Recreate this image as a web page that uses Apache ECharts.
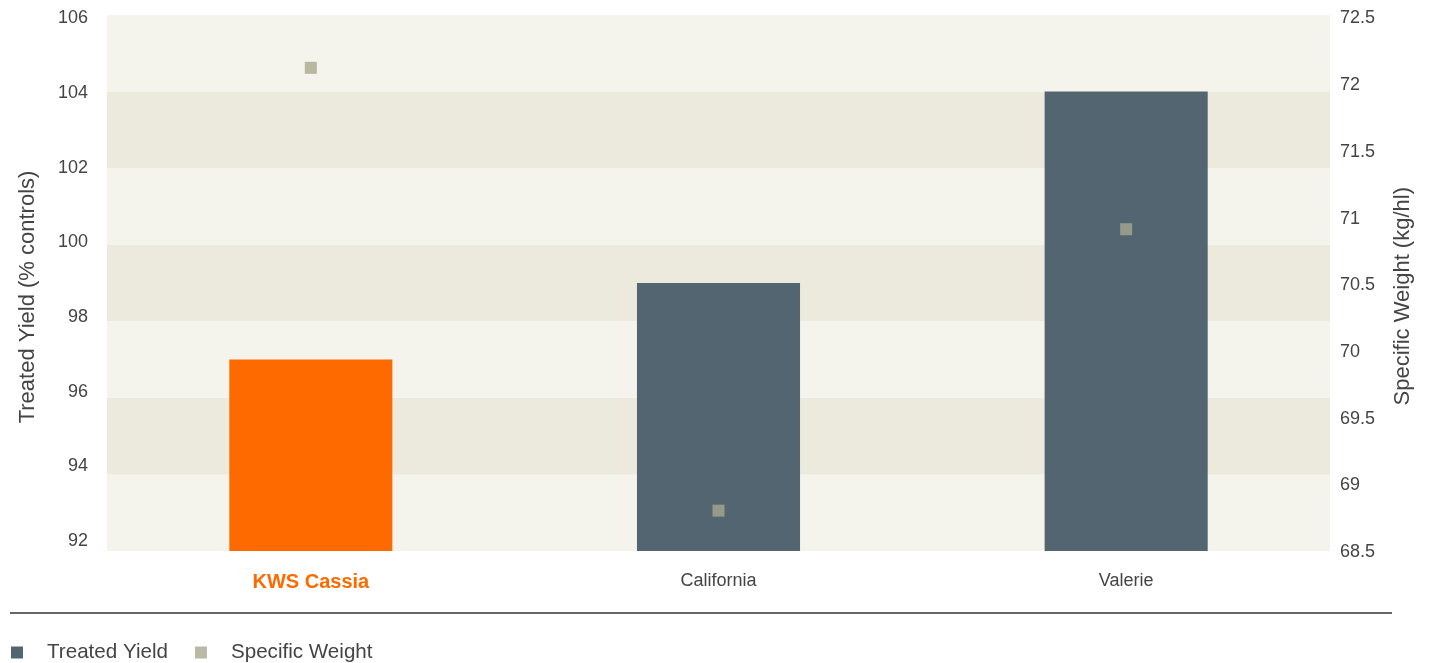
<!DOCTYPE html>
<html>
<head>
<meta charset="utf-8">
<script src="https://cdn.jsdelivr.net/npm/echarts@6/dist/echarts.min.js"></script>
<style>html,body{margin:0;padding:0;background:#fff;}#c{width:1432px;height:663px;}</style>
</head>
<body>
<div id="c"></div>
<script>
var categories = ['KWS Cassia', 'California', 'Valerie'];
var treatedYield = [97, 99, 104];
var specificWeight = [72.13, 68.81, 70.92];
var seriesNames = ['Treated Yield', 'Specific Weight'];
var leftAxisName = 'Treated Yield (% controls)';
var rightAxisName = 'Specific Weight (kg/hl)';

var FONT = '"Liberation Sans", Arial, sans-serif';
var chart = echarts.init(document.getElementById('c'));
var hiddenX = function (gi) {
  return { type: 'category', data: categories, gridIndex: gi, show: false };
};
chart.setOption({
  backgroundColor: '#ffffff',
  animation: false,
  textStyle: { fontFamily: FONT },
  grid: [
    { left: 107, right: 102, top: 15, bottom: 112 },
    { left: 107, right: 102, top: 18.5, bottom: 111 },
    { left: 107, right: 102, top: 18.5, bottom: 122 }
  ],
  legend: {
    left: 6, top: 637,
    icon: 'rect', itemWidth: 12, itemHeight: 12, itemGap: 27,
    textStyle: { fontSize: 20.6, color: '#444', fontFamily: FONT, padding: [0, 0, 0, 19] },
    data: seriesNames
  },
  graphic: [{
    type: 'line', shape: { x1: 10, y1: 613, x2: 1392, y2: 613 },
    style: { stroke: '#333', lineWidth: 1.5 }, silent: true
  }],
  xAxis: [{
    type: 'category', data: categories, gridIndex: 0,
    axisLine: { show: false }, axisTick: { show: false },
    axisLabel: {
      margin: 21, fontSize: 18, color: '#444', fontFamily: FONT,
      formatter: function (v, i) { return i === 0 ? '{hl|' + v + '}' : v; },
      rich: { hl: { color: '#ff6a00', fontWeight: 'bold', fontSize: 20, fontFamily: FONT } }
    }
  }, hiddenX(1), hiddenX(2)],
  yAxis: [{
    type: 'value', min: 92, max: 106, interval: 2, position: 'left', gridIndex: 0,
    name: leftAxisName, nameLocation: 'middle', nameGap: 68,
    nameTextStyle: { fontSize: 22, color: '#444', fontFamily: FONT, padding: [0, 28, 0, 0] },
    axisLine: { show: false }, axisTick: { show: false },
    axisLabel: { show: false },
    splitLine: { show: false },
    splitArea: { show: true, areaStyle: { color: ['#f4f3ec', '#ece9dd'] } }
  }, {
    type: 'value', min: 68.5, max: 72.5, interval: 0.5, position: 'right', gridIndex: 1,
    name: rightAxisName, nameLocation: 'middle', nameGap: 62,
    nameTextStyle: { fontSize: 22, color: '#444', fontFamily: FONT, padding: [0, 22, 0, 0] },
    axisLine: { show: false }, axisTick: { show: false },
    axisLabel: { margin: 10, fontSize: 18, color: '#444', fontFamily: FONT },
    splitLine: { show: false }, splitArea: { show: false }
  }, {
    type: 'value', min: 92, max: 106, interval: 2, position: 'left', gridIndex: 2,
    axisLine: { show: false }, axisTick: { show: false },
    axisLabel: { margin: 19, fontSize: 18, color: '#444', fontFamily: FONT },
    splitLine: { show: false }, splitArea: { show: false }
  }],
  series: [{
    name: seriesNames[0], type: 'bar', xAxisIndex: 0, yAxisIndex: 0, barWidth: '40%',
    itemStyle: { color: '#526570' },
    data: treatedYield.map(function (v, i) {
      return i === 0 ? { value: v, itemStyle: { color: '#ff6a00' } } : v;
    })
  }, {
    name: seriesNames[1], type: 'scatter', xAxisIndex: 1, yAxisIndex: 1,
    symbol: 'rect', symbolSize: 12, itemStyle: { color: '#a8a790' },
    data: specificWeight, z: 5
  }]
});
</script>
</body>
</html>
